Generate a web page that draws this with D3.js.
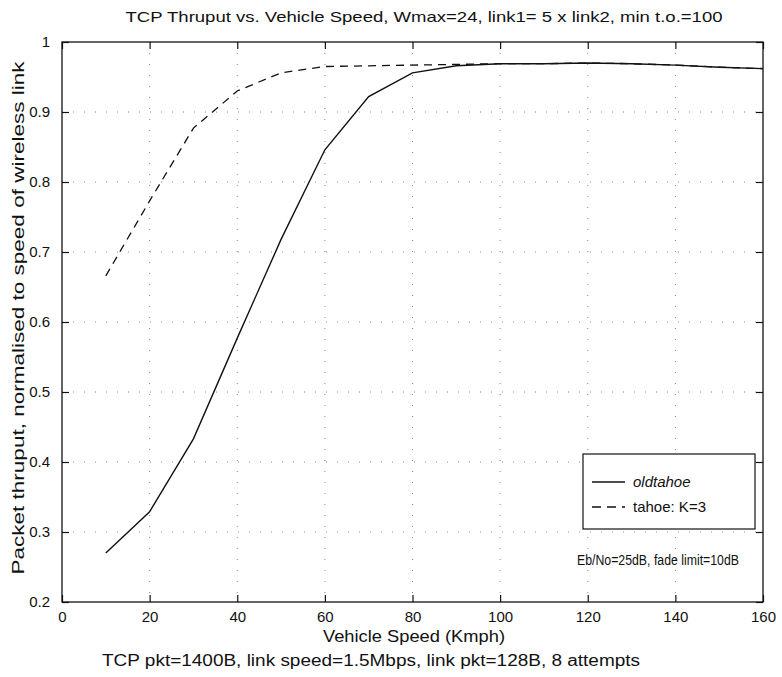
<!DOCTYPE html>
<html>
<head>
<meta charset="utf-8">
<script src="https://cdn.jsdelivr.net/npm/d3@7"></script>
<style>
    body { margin: 0; background: white; }
    #chart { width: 782px; height: 677px; }
    text { font-family: "Liberation Sans", Arial, sans-serif; fill: #111; }
</style>
</head>
<body>
<div id="chart"></div>
<script>

// ==========================
// Data
// ==========================

const speeds = [10, 20, 30, 40, 50, 60, 70, 80, 90, 100, 110, 120, 130, 140, 150, 160];

const oldtahoe = [0.270, 0.329, 0.433, 0.577, 0.718, 0.846, 0.922, 0.956, 0.966, 0.969, 0.969, 0.970, 0.969, 0.967, 0.964, 0.962];

const tahoeK3 = [0.666, 0.773, 0.877, 0.930, 0.956, 0.965, 0.966, 0.967, 0.968, 0.969, 0.969, 0.970, 0.969, 0.967, 0.964, 0.962];

const xTicks = [0, 20, 40, 60, 80, 100, 120, 140, 160];
const yTicks = [0.2, 0.3, 0.4, 0.5, 0.6, 0.7, 0.8, 0.9, 1];

const seriesNames = ["oldtahoe", "tahoe: K=3"];

// ==========================
// SVG Setup
// ==========================

const width = 782;
const height = 677;

const margin = { top: 42, right: 19, bottom: 75, left: 62 };

const innerWidth = width - margin.left - margin.right;
const innerHeight = height - margin.top - margin.bottom;

const svg = d3.select("#chart").append("svg")
    .attr("width", width)
    .attr("height", height);

const chart = svg.append("g")
    .attr("transform", `translate(${margin.left},${margin.top})`);

// ==========================
// Scales
// ==========================

const xScale = d3.scaleLinear()
    .domain([0, 160])
    .range([0, innerWidth]);

const yScale = d3.scaleLinear()
    .domain([0.2, 1])
    .range([innerHeight, 0]);

// ==========================
// Grid (dotted)
// ==========================

chart.selectAll(".vgrid")
    .data(xTicks.slice(1, -1))
    .enter()
    .append("line")
    .attr("x1", d => xScale(d))
    .attr("x2", d => xScale(d))
    .attr("y1", 0)
    .attr("y2", innerHeight)
    .attr("stroke", "#888")
    .attr("stroke-width", 1)
    .attr("stroke-dasharray", "1,10");

chart.selectAll(".hgrid")
    .data(yTicks.slice(1, -1))
    .enter()
    .append("line")
    .attr("x1", 0)
    .attr("x2", innerWidth)
    .attr("y1", d => yScale(d))
    .attr("y2", d => yScale(d))
    .attr("stroke", "#888")
    .attr("stroke-width", 1)
    .attr("stroke-dasharray", "1,10");

// ==========================
// Axes (ticks inward, all sides)
// ==========================

const fmtY = d => d === 1 ? "1" : d3.format(".1f")(d);

chart.append("g")
    .attr("transform", `translate(0,${innerHeight})`)
    .call(d3.axisBottom(xScale).tickValues(xTicks).tickSizeInner(-7).tickSizeOuter(0).tickPadding(9))
    .call(g => g.selectAll("text").style("font-size", "15px"));

chart.append("g")
    .call(d3.axisTop(xScale).tickValues(xTicks).tickSizeInner(-7).tickSizeOuter(0))
    .call(g => g.selectAll("text").remove());

chart.append("g")
    .call(d3.axisLeft(yScale).tickValues(yTicks).tickSizeInner(-7).tickSizeOuter(0).tickPadding(12).tickFormat(fmtY))
    .call(g => g.selectAll("text").style("font-size", "15px"));

chart.append("g")
    .attr("transform", `translate(${innerWidth},0)`)
    .call(d3.axisRight(yScale).tickValues(yTicks).tickSizeInner(-7).tickSizeOuter(0))
    .call(g => g.selectAll("text").remove());

chart.selectAll(".domain").remove();
chart.selectAll(".tick line").attr("stroke", "#111").attr("stroke-width", 1.2);

chart.append("rect")
    .attr("width", innerWidth)
    .attr("height", innerHeight)
    .attr("fill", "none")
    .attr("stroke", "#111")
    .attr("stroke-width", 1.3);

// ==========================
// Lines
// ==========================

const line = d3.line()
    .x(d => xScale(d[0]))
    .y(d => yScale(d[1]));

chart.append("path")
    .datum(speeds.map((s, i) => [s, tahoeK3[i]]))
    .attr("d", line)
    .attr("fill", "none")
    .attr("stroke", "#111")
    .attr("stroke-width", 1.3)
    .attr("stroke-dasharray", "8,6");

chart.append("path")
    .datum(speeds.map((s, i) => [s, oldtahoe[i]]))
    .attr("d", line)
    .attr("fill", "none")
    .attr("stroke", "#111")
    .attr("stroke-width", 1.4);

// ==========================
// Legend
// ==========================

const legend = svg.append("g")
    .attr("transform", "translate(583, 454)");

legend.append("rect")
    .attr("width", 172)
    .attr("height", 75)
    .attr("fill", "white")
    .attr("stroke", "#111")
    .attr("stroke-width", 1.2);

seriesNames.forEach((name, i) => {
    const y = 28 + i * 25;
    legend.append("line")
        .attr("x1", 9)
        .attr("x2", 42)
        .attr("y1", y)
        .attr("y2", y)
        .attr("stroke", "#111")
        .attr("stroke-width", 1.3)
        .attr("stroke-dasharray", i === 0 ? null : "9,6");
    legend.append("text")
        .attr("x", 50)
        .attr("y", y)
        .attr("dy", "0.35em")
        .style("font-size", "15px")
        .style("font-style", i === 0 ? "italic" : "normal")
        .text(name);
});

// ==========================
// Texts
// ==========================

svg.append("text")
    .attr("x", 577)
    .attr("y", 560)
    .attr("dy", "0.35em")
    .style("font-size", "14px")
    .attr("textLength", 162)
    .attr("lengthAdjust", "spacingAndGlyphs")
    .text("Eb/No=25dB, fade limit=10dB");

svg.append("text")
    .attr("x", 424)
    .attr("y", 17)
    .attr("dy", "0.35em")
    .attr("text-anchor", "middle")
    .style("font-size", "15px")
    .attr("textLength", 597)
    .attr("lengthAdjust", "spacingAndGlyphs")
    .text("TCP Thruput vs. Vehicle Speed, Wmax=24, link1= 5 x link2,  min t.o.=100");

svg.append("text")
    .attr("x", 414)
    .attr("y", 636)
    .attr("dy", "0.35em")
    .attr("text-anchor", "middle")
    .style("font-size", "17px")
    .attr("textLength", 182)
    .attr("lengthAdjust", "spacingAndGlyphs")
    .text("Vehicle Speed (Kmph)");

svg.append("text")
    .attr("x", 371)
    .attr("y", 660)
    .attr("dy", "0.35em")
    .attr("text-anchor", "middle")
    .style("font-size", "16px")
    .attr("textLength", 538)
    .attr("lengthAdjust", "spacingAndGlyphs")
    .text("TCP pkt=1400B, link speed=1.5Mbps, link pkt=128B, 8 attempts");

svg.append("text")
    .attr("transform", "translate(18, 318) rotate(-90)")
    .attr("dy", "0.35em")
    .attr("text-anchor", "middle")
    .style("font-size", "17px")
    .attr("textLength", 513)
    .attr("lengthAdjust", "spacingAndGlyphs")
    .text("Packet thruput, normalised to speed of wireless link");

</script>
</body>
</html>
